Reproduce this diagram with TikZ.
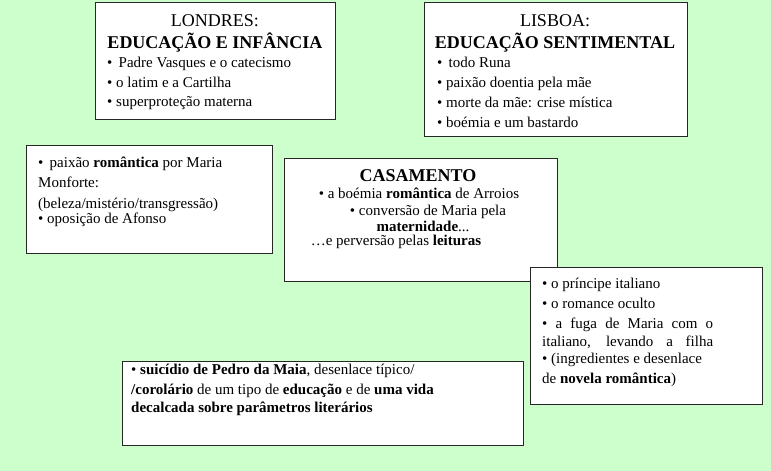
\documentclass[tikz,border=0pt]{standalone}
\usepackage{fontspec}
\setmainfont{Liberation Serif}
\usetikzlibrary{positioning}
\definecolor{fundo}{HTML}{CCFFCC}
\tikzset{
  caixa/.style={draw=black!85, fill=white, line width=1pt, anchor=north west, inner sep=0pt},
  titulo/.style={anchor=base, inner sep=0pt, align=center, font=\fontsize{18}{22}\selectfont},
  texto/.style={anchor=base west, inner sep=0pt, align=left, font=\fontsize{15}{20}\selectfont},
  linha/.style={anchor=base, inner sep=0pt, font=\fontsize{15}{20}\selectfont},
}
\begin{document}
\begin{tikzpicture}[x=1pt, y=-1pt]
  \fill[fundo] (0,0) rectangle (771,471);
  \useasboundingbox (0,0) rectangle (771,471);

  % caixas
  \node[caixa, minimum width=240, minimum height=117] (londres) at (95,2) {};
  \node[caixa, minimum width=263, minimum height=134] (lisboa) at (424,2) {};
  \node[caixa, minimum width=246, minimum height=108] (paixao) at (26,145) {};
  \node[caixa, minimum width=273, minimum height=123] (casamento) at (284,158) {};
  \node[caixa, minimum width=232, minimum height=137] (maria) at (530,267) {};
  \node[caixa, minimum width=401, minimum height=84] (suicidio) at (122,361) {};

  % Londres (base = ultima linha)
  \node[titulo] (londresT) at (215,48) {LONDRES:\\\textbf{EDUCAÇÃO E INFÂNCIA}};
  \node[texto] (londresL) at (107,106) {•\, Padre Vasques e o catecismo\\• o latim e a Cartilha\\[-1pt]• superproteção materna};

  % Lisboa
  \node[titulo] (lisboaT) at (555,48) {LISBOA:\\\textbf{EDUCAÇÃO SENTIMENTAL}};
  \node[texto] (lisboaL) at (437,127) {•\, todo Runa\\• paixão doentia pela mãe\\• morte da mãe: crise mística\\• boémia e um bastardo};

  % paixao
  \node[texto] (paixaoL) at (38,223) {•\, paixão \textbf{romântica} por Maria\\Monforte:\\[1pt](beleza/mistério/transgressão)\\[-5pt]• oposição de Afonso};

  % casamento
  \node[titulo] (casamentoT) at (418,181) {\textbf{CASAMENTO}};
  \node[linha] (casa1) at (419,198) {• a boémia \textbf{romântica} de Arroios};
  \node[linha] (casa2) at (428,215) {• conversão de Maria pela};
  \node[linha] (casa3) at (423,231) {\textbf{maternidade}...};
  \node[linha] (casa4) at (396,245) {…e perversão pelas \textbf{leituras}};

  % Maria e o italiano
  \node[texto] (mariaL) at (542,383) {• o príncipe italiano\\• o romance oculto\\\makebox[171pt][s]{• a fuga de Maria com o}\\[-2pt]\makebox[171pt][s]{italiano, levando a filha}\\[-3pt]• (ingredientes e desenlace\\de \textbf{novela romântica})};

  % suicidio
  \node[texto] (suicidioL) at (131,412) {• \textbf{suicídio de Pedro da Maia}, desenlace típico/\\\textbf{/corolário} de um tipo de \textbf{educação} e de \textbf{uma vida}\\[-2pt]\textbf{decalcada sobre parâmetros literários}};
\end{tikzpicture}
\end{document}
